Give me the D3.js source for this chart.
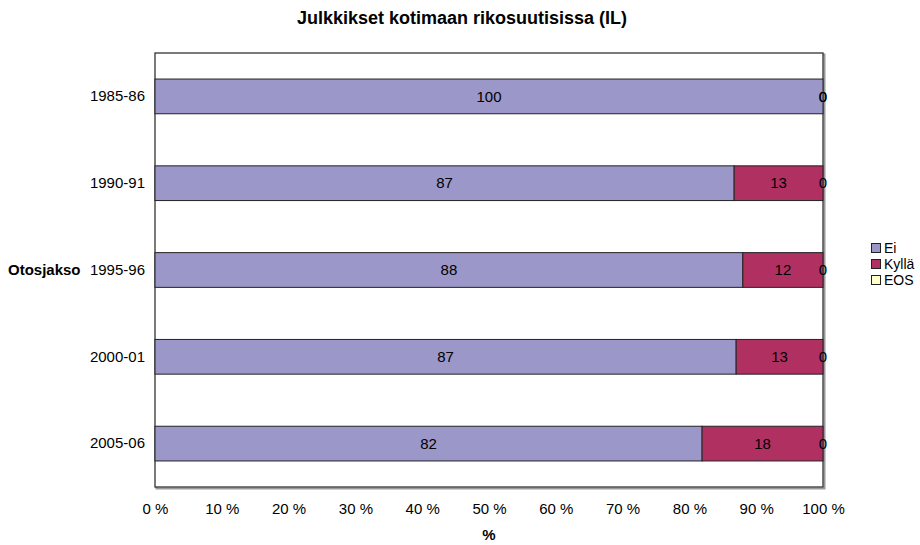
<!DOCTYPE html>
<html>
<head>
<meta charset="utf-8">
<script src="https://cdnjs.cloudflare.com/ajax/libs/d3/7.8.5/d3.min.js"></script>
<style>
  body { margin: 0; background: #fff; }
  svg text { font-family: "Liberation Sans", Arial, sans-serif; fill: #000; }
</style>
</head>
<body>
<div id="chart"></div>
<script>
// Data
var periods = ['1985-86', '1990-91', '1995-96', '2000-01', '2005-06'];
var seriesNames = ['Ei', 'Kyllä', 'EOS'];
var ei    = [100, 86.7, 88, 87, 81.9];
var kylla = [0, 13.3, 12, 13, 18.1];
var eos   = [0, 0, 0, 0, 0];
var xTicks = [0, 10, 20, 30, 40, 50, 60, 70, 80, 90, 100];

var width = 920,
    height = 545,
    margin = { left: 155, right: 97, top: 53, bottom: 58 };

var colors = { 'Ei': '#9b97c8', 'Kyllä': '#b03062', 'EOS': '#ffffcc' };
var fontSize = 15;

var chartWidth = width - margin.left - margin.right;
var chartHeight = height - margin.top - margin.bottom;

var rows = periods.map(function(p, i) {
  return { period: p, 'Ei': ei[i], 'Kyllä': kylla[i], 'EOS': eos[i] };
});

var stack = d3.stack().keys(seriesNames);
var layers = stack(rows);

var xScale = d3.scaleLinear().domain([0, 100]).range([0, chartWidth]);
var yScale = d3.scaleBand().domain(periods).range([0, chartHeight])
  .paddingInner(0.6).paddingOuter(0.3);

var svg = d3.select('#chart').append('svg')
  .attr('width', width)
  .attr('height', height);

// Title
svg.append('text')
  .attr('x', 462)
  .attr('y', 18)
  .attr('dy', '0.35em')
  .attr('text-anchor', 'middle')
  .attr('font-size', 18)
  .attr('font-weight', 'bold')
  .text('Julkkikset kotimaan rikosuutisissa (IL)');

var g = svg.append('g')
  .attr('transform', 'translate(' + margin.left + ',' + margin.top + ')');

// Plot area frame (with soft grey shadow like the original)
g.append('rect')
  .attr('x', 1.5).attr('y', 1.5)
  .attr('width', chartWidth).attr('height', chartHeight)
  .attr('fill', 'none')
  .attr('stroke', '#999')
  .attr('stroke-width', 2);
g.append('rect')
  .attr('width', chartWidth).attr('height', chartHeight)
  .attr('fill', '#fff')
  .attr('stroke', '#333')
  .attr('stroke-width', 1.3);

// Bars
var layerG = g.selectAll('g.layer')
  .data(layers)
  .enter().append('g')
  .attr('class', 'layer')
  .attr('fill', function(d) { return colors[d.key]; });

layerG.selectAll('rect')
  .data(function(d) { return d; })
  .enter().append('rect')
  .attr('x', function(d) { return xScale(d[0]); })
  .attr('y', function(d) { return yScale(d.data.period); })
  .attr('width', function(d) { return xScale(d[1]) - xScale(d[0]); })
  .attr('height', yScale.bandwidth())
  .attr('stroke', '#222')
  .attr('stroke-width', 1);

// Value labels
layers.forEach(function(layer) {
  g.selectAll(null)
    .data(layer)
    .enter().append('text')
    .attr('x', function(d) { return xScale((d[0] + d[1]) / 2); })
    .attr('y', function(d) { return yScale(d.data.period) + yScale.bandwidth() / 2; })
    .attr('dy', '0.35em')
    .attr('text-anchor', 'middle')
    .attr('font-size', fontSize)
    .text(function(d) { return Math.round(d[1] - d[0]); });
});

// X axis (labels only)
var xAxis = d3.axisBottom(xScale)
  .tickValues(xTicks)
  .tickSize(0)
  .tickPadding(16)
  .tickFormat(function(d) { return d + ' %'; });

var xAxisG = g.append('g')
  .attr('class', 'axis x')
  .attr('transform', 'translate(0,' + chartHeight + ')')
  .call(xAxis);
xAxisG.select('.domain').remove();
xAxisG.selectAll('text').attr('font-size', fontSize).attr('fill', '#000')
  .attr('font-family', '"Liberation Sans", Arial, sans-serif');

// Y axis (labels only)
var yAxis = d3.axisLeft(yScale).tickSize(0).tickPadding(10);
var yAxisG = g.append('g')
  .attr('class', 'axis y')
  .call(yAxis);
yAxisG.select('.domain').remove();
yAxisG.selectAll('text').attr('font-size', fontSize).attr('fill', '#000')
  .attr('font-family', '"Liberation Sans", Arial, sans-serif');

// Axis titles
svg.append('text')
  .attr('x', margin.left + chartWidth / 2)
  .attr('y', 535)
  .attr('dy', '0.35em')
  .attr('text-anchor', 'middle')
  .attr('font-size', fontSize)
  .attr('font-weight', 'bold')
  .text('%');

svg.append('text')
  .attr('x', 8)
  .attr('y', margin.top + yScale('1995-96') + yScale.bandwidth() / 2)
  .attr('dy', '0.35em')
  .attr('font-size', fontSize)
  .attr('font-weight', 'bold')
  .text('Otosjakso');

// Legend
var legend = svg.append('g')
  .attr('transform', 'translate(871,243)');
var items = legend.selectAll('g')
  .data(seriesNames)
  .enter().append('g')
  .attr('transform', function(d, i) { return 'translate(0,' + (i * 16) + ')'; });
items.append('rect')
  .attr('x', 0.5).attr('y', 0.5)
  .attr('width', 9).attr('height', 9)
  .attr('fill', function(d) { return colors[d]; })
  .attr('stroke', '#222')
  .attr('stroke-width', 1);
items.append('text')
  .attr('x', 13)
  .attr('y', 5)
  .attr('dy', '0.35em')
  .attr('font-size', 14)
  .text(function(d) { return d; });
</script>
</body>
</html>
